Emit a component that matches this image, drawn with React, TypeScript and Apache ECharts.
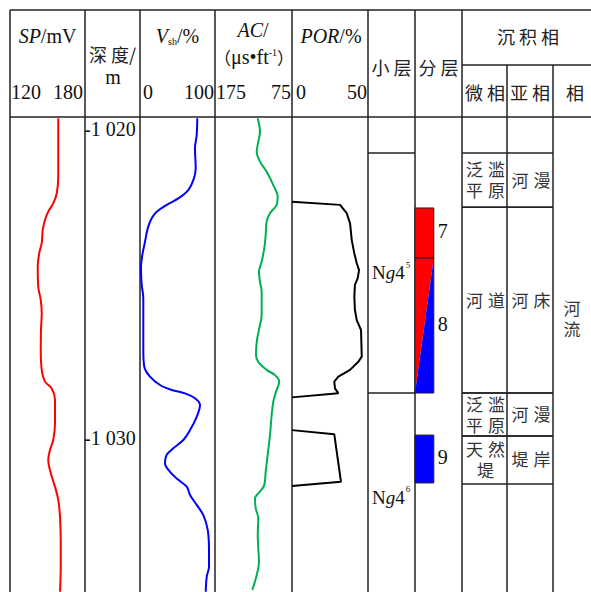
import React, { useEffect, useRef } from 'react';
import * as echarts from 'echarts';

// ---------------- data ----------------
const DEPTH_MIN = 1019.676;
const DEPTH_MAX = 1035.049;
const depthTicks = [1020, 1030];

const spDepth = [1019.72, 1021.61, 1022.15, 1022.47, 1022.74, 1023.01, 1023.33, 1023.75, 1024.08, 1024.52, 1025.17, 1025.6, 1026.03, 1026.57, 1027.22, 1027.86, 1028.24, 1028.46, 1028.83, 1029.58, 1030.13, 1030.45, 1030.78, 1031.2, 1031.64, 1032.07, 1032.61, 1033.46, 1034.23, 1035.04];
const spValue = [158.6, 158.6, 157.4, 154.6, 150.6, 148, 146.2, 145.4, 143.4, 142.2, 142.6, 144.6, 145.4, 144.8, 144.6, 145.4, 148, 153.4, 156, 156, 154.6, 152, 150.6, 152.6, 156, 158.6, 160, 160.6, 160.6, 160];

const vshDepth = [1019.72, 1020.26, 1020.69, 1021.34, 1021.72, 1022.04, 1022.31, 1022.52, 1022.74, 1022.95, 1023.28, 1023.71, 1024.14, 1024.57, 1025.11, 1025.54, 1026.19, 1027.22, 1027.76, 1028.08, 1028.35, 1028.51, 1028.62, 1028.78, 1029.0, 1029.38, 1029.81, 1030.13, 1030.4, 1030.61, 1030.88, 1031.16, 1031.42, 1031.64, 1031.91, 1032.23, 1032.56, 1033.04, 1033.69, 1034.23, 1034.55, 1035.04];
const vshValue = [76.4, 75.6, 73.3, 74.3, 71.1, 64.4, 51.1, 35.6, 22.3, 15.6, 10.3, 6.7, 3.1, 1.3, 2.3, 4.4, 4.4, 4.4, 5.7, 13.3, 26.7, 42.3, 60, 73.3, 80, 75.6, 66.7, 57.7, 44.4, 35.6, 33.3, 40, 51.1, 62.3, 66.7, 75.6, 84.4, 90.3, 92, 92, 89, 87.6];

const acDepth = [1019.72, 1020.15, 1020.48, 1020.8, 1021.12, 1021.45, 1021.88, 1022.26, 1022.52, 1022.79, 1023.06, 1023.5, 1023.93, 1024.36, 1024.68, 1025.01, 1025.33, 1026.08, 1026.51, 1026.95, 1027.38, 1027.6, 1027.86, 1028.03, 1028.24, 1028.57, 1028.89, 1029.32, 1029.97, 1030.61, 1031.16, 1031.59, 1031.8, 1032.02, 1032.34, 1032.66, 1033.2, 1033.63, 1034.07, 1034.5, 1034.98];
const acValue = [119.5, 116.6, 118.8, 120.8, 116.6, 107.9, 99.3, 93.6, 94.9, 103.6, 107.9, 109.2, 111.0, 114.4, 117.9, 116.6, 114.4, 114.4, 117.5, 120.8, 121.8, 118.8, 107.9, 97.1, 91.5, 95.8, 99.3, 101.4, 103.6, 106.6, 109.2, 111.0, 116.6, 123.1, 122.1, 118.8, 119.5, 118.8, 117.9, 120.8, 126.6];

const porDepthA = [1022.42, 1022.52, 1022.79, 1023.12, 1023.66, 1024.09, 1024.41, 1024.63, 1024.9, 1025.11, 1025.49, 1025.92, 1026.25, 1026.57, 1027.43, 1027.6, 1027.86, 1028.08, 1028.24, 1028.46, 1028.62, 1028.75];
const porValueA = [0, 31.6, 36, 38.2, 39.3, 41, 42.6, 44.1, 43.2, 41.4, 41, 41.4, 42.6, 45.4, 45.9, 43.6, 38.2, 30.5, 27.8, 28.3, 30.5, 0];
const porDepthB = [1029.81, 1029.94, 1031.48, 1031.62];
const porValueB = [0, 27.8, 32.2, 0];

const subLayerBoundaries = [1020.84, 1028.61];
const subLayerName = ['Ng4', 'Ng4'];
const subLayerIndex = ['5', '6'];
const subLayerLabelDepth = [1024.72, 1031.98];

const layerNames = ['7', '8', '9'];
const layerTop = [1022.62, 1024.24, 1029.97];
const layerBottom = [1024.24, 1028.61, 1031.52];
const layerKind = ['R', 'RB', 'B'];

const faciesTop = [1020.84, 1022.6, 1028.61, 1030.0];
const faciesBottom = [1022.6, 1028.61, 1030.0, 1031.55];
const microFacies = ['泛滥平原', '河道', '泛滥平原', '天然堤'];
const subFacies = ['河漫', '河床', '河漫', '堤岸'];
const faciesName = ['河流'];
const faciesTopMain = [1020.84];
const faciesBottomMain = [1031.55];

// ---------------- styles ----------------
const SERIF = '"Liberation Serif", "Times New Roman", serif';
const CJK = '"Noto Sans CJK SC", sans-serif';
const CELL_FAMILY = '"Liberation Serif", "Noto Sans CJK SC", sans-serif';
const LINE = '#222';
const LW = 1.5;
const GRID_TOP = 117;
const GRID_H = 475;
const CELL_FONT = 17;
const CELL_PITCH_Y = 21;
const CELL_PITCH_X = 22;

const cols = [
  { left: 10, width: 75, min: 120, max: 180, inv: false },
  { left: 85, width: 55, min: 0, max: 1, inv: false },
  { left: 140, width: 75, min: 0, max: 100, inv: false },
  { left: 215, width: 77, min: 75, max: 175, inv: true },
  { left: 292, width: 76, min: 0, max: 50, inv: false },
  { left: 368, width: 47, min: 0, max: 1, inv: false },
  { left: 415, width: 47, min: 0, max: 1, inv: false },
  { left: 462, width: 45, min: 0, max: 1, inv: false },
  { left: 507, width: 46, min: 0, max: 1, inv: false },
  { left: 553, width: 45, min: 0, max: 1, inv: false },
];

const fmtDepth = (d: number) => `-${Math.floor(d / 1000)} ${String(d % 1000).padStart(3, '0')}`;

function txt(x: number, y: number, text: string, opts: any = {}) {
  const align = opts.align || 'center';
  const va = opts.va || 'middle';
  return {
    type: 'text',
    x, y,
    silent: true,
    style: {
      text,
      fill: opts.fill || '#111',
      fontSize: opts.fontSize || 20,
      fontFamily: opts.fontFamily || SERIF,
      fontStyle: opts.fontStyle || 'normal',
      align, verticalAlign: va, textAlign: align, textVerticalAlign: va,
      rich: opts.rich,
    },
  };
}
function ln(x1: number, y1: number, x2: number, y2: number) {
  return { type: 'line', silent: true, shape: { x1, y1, x2, y2 }, style: { stroke: LINE, lineWidth: LW } };
}
// lay characters out in a grid of `per` chars per row, centred on (cx, cy)
function charGrid(cx: number, cy: number, s: string, per: number) {
  const chars = s.split('');
  const rows = Math.ceil(chars.length / per);
  const out: any[] = [];
  for (let r = 0; r < rows; r++) {
    const row = chars.slice(r * per, r * per + per);
    row.forEach((ch, k) => {
      const x = cx + (k - (row.length - 1) / 2) * CELL_PITCH_X;
      const y = cy + (r - (rows - 1) / 2) * CELL_PITCH_Y;
      out.push(txt(x, y, ch, { fontFamily: CELL_FAMILY, fontSize: CELL_FONT, fill: '#333' }));
    });
  }
  return out;
}

const richSerif = {
  i: { fontSize: 20, fontFamily: SERIF, fontStyle: 'italic', fill: '#111' },
  n: { fontSize: 20, fontFamily: SERIF, fontStyle: 'normal', fill: '#111' },
  s: { fontSize: 10, fontFamily: SERIF, fontStyle: 'normal', fill: '#111', verticalAlign: 'bottom' },
  sup: { fontSize: 10, fontFamily: SERIF, fontStyle: 'normal', fill: '#111', verticalAlign: 'top' },
  cj: { fontSize: 17, fontFamily: CJK, fontStyle: 'normal', fill: '#111' },
};

function buildOption(): any {
  const grid = cols.map((c) => ({ left: c.left, top: GRID_TOP, width: c.width, height: GRID_H }));
  const xAxis = cols.map((c, i) => ({ type: 'value', gridIndex: i, min: c.min, max: c.max, inverse: c.inv, show: false }));
  const yAxis = cols.map((_, i) => ({ type: 'value', gridIndex: i, min: DEPTH_MIN, max: DEPTH_MAX, inverse: true, show: false }));

  const curve = (idx: number, depth: number[], val: number[], color: string, smooth: number | boolean) => ({
    type: 'line', xAxisIndex: idx, yAxisIndex: idx,
    data: depth.map((d, i) => [val[i], d]),
    showSymbol: false, symbol: 'none', smooth, silent: true,
    lineStyle: { color, width: 2 },
  });

  const series: any[] = [
    curve(0, spDepth, spValue, '#ff0000', 0.35),
    curve(2, vshDepth, vshValue, '#0000ff', 0.35),
    curve(3, acDepth, acValue, '#00b050', 0.35),
    curve(4, porDepthA, porValueA, '#000', false),
    curve(4, porDepthB, porValueB, '#000', false),
    // depth tick labels
    {
      type: 'custom', xAxisIndex: 1, yAxisIndex: 1, silent: true,
      data: depthTicks.map((d) => [0, d]),
      renderItem: (params: any, api: any) => {
        const p = api.coord([0, api.value(1)]);
        return txt(p[0] - 1, p[1] + 2, fmtDepth(depthTicks[params.dataIndex]), { align: 'left' });
      },
    },
    // sub-layer boundaries
    {
      type: 'custom', xAxisIndex: 5, yAxisIndex: 5, silent: true,
      data: subLayerBoundaries.map((d) => [0, d]),
      renderItem: (_p: any, api: any) => {
        const a = api.coord([0, api.value(1)]);
        const b = api.coord([1, api.value(1)]);
        return ln(a[0], a[1], b[0], b[1]);
      },
    },
    // sub-layer labels
    {
      type: 'custom', xAxisIndex: 5, yAxisIndex: 5, silent: true,
      data: subLayerLabelDepth.map((d) => [0.78, d]),
      renderItem: (params: any, api: any) => {
        const i = params.dataIndex;
        const p = api.coord([api.value(0), api.value(1)]);
        const name = subLayerName[i];
        return {
          type: 'group',
          children: [
            txt(p[0], p[1], `{n|${name.slice(0, 1)}}{i|${name.slice(1, 2)}}{n|${name.slice(2)}}`, {
              align: 'right',
              rich: { n: { ...richSerif.n, fontSize: 19 }, i: { ...richSerif.i, fontSize: 19 } },
            }),
            txt(p[0] + 1, p[1] - 8, subLayerIndex[i], { align: 'left', fontSize: 9 }),
          ],
        };
      },
    },
    // layers
    {
      type: 'custom', xAxisIndex: 6, yAxisIndex: 6, silent: true,
      data: layerTop.map((t, i) => [t, layerBottom[i]]),
      renderItem: (params: any, api: any) => {
        const i = params.dataIndex;
        const a = api.coord([0, api.value(0)]);
        const b = api.coord([0.4, api.value(1)]);
        const x0 = a[0], y0 = a[1], x1 = b[0], y1 = b[1];
        const kind = layerKind[i];
        const children: any[] = [];
        const border = { stroke: LINE, lineWidth: 1 };
        if (kind === 'R' || kind === 'B') {
          children.push({ type: 'rect', shape: { x: x0, y: y0, width: x1 - x0, height: y1 - y0 }, style: { fill: kind === 'R' ? '#ff0000' : '#0000ff', ...border } });
        } else {
          children.push({ type: 'polygon', shape: { points: [[x0, y0], [x1, y0], [x0, y1]] }, style: { fill: '#ff0000' } });
          children.push({ type: 'polygon', shape: { points: [[x1, y0], [x1, y1], [x0, y1]] }, style: { fill: '#0000ff' } });
          children.push({ type: 'rect', shape: { x: x0, y: y0, width: x1 - x0, height: y1 - y0 }, style: { fill: 'none', ...border } });
        }
        children.push(txt(x1 + 4, (y0 + y1) / 2 - 2, layerNames[i], { align: 'left' }));
        return { type: 'group', children };
      },
    },
  ];

  // facies rows (micro + sub)
  [7, 8].forEach((gi) => {
    const labels = gi === 7 ? microFacies : subFacies;
    series.push({
      type: 'custom', xAxisIndex: gi, yAxisIndex: gi, silent: true,
      data: faciesTop.map((t, i) => [t, faciesBottom[i]]),
      renderItem: (params: any, api: any) => {
        const i = params.dataIndex;
        const a = api.coord([0, api.value(0)]);
        const b = api.coord([1, api.value(1)]);
        return {
          type: 'group',
          children: [
            ln(a[0], a[1], b[0], a[1]),
            ln(a[0], b[1], b[0], b[1]),
            ...charGrid((a[0] + b[0]) / 2 + 1, (a[1] + b[1]) / 2 + 1, labels[i], 2),
          ],
        };
      },
    });
  });
  series.push({
    type: 'custom', xAxisIndex: 9, yAxisIndex: 9, silent: true,
    data: faciesTopMain.map((t, i) => [t, faciesBottomMain[i]]),
    renderItem: (params: any, api: any) => {
      const i = params.dataIndex;
      const a = api.coord([0, api.value(0)]);
      const b = api.coord([1, api.value(1)]);
      return { type: 'group', children: charGrid((a[0] + b[0]) / 2, (a[1] + b[1]) / 2 + 2, faciesName[i], 1) };
    },
  });

  // table frame & headers (layout)
  const g: any[] = [];
  g.push(ln(10, 10, 591, 10));
  g.push(ln(10, 117, 591, 117));
  g.push(ln(462, 65, 591, 65));
  [10, 85, 140, 215, 292, 368, 415, 462].forEach((x) => g.push(ln(x, 10, x, 592)));
  [507, 553].forEach((x) => g.push(ln(x, 65, x, 592)));

  const cn = { fontFamily: CJK, fontSize: 18, fill: '#222' };
  g.push(txt(47.5, 36, '{i|SP}{n|/}{n|mV}', { rich: richSerif }));
  g.push(txt(11, 92, '120', { align: 'left' }));
  g.push(txt(83, 92, '180', { align: 'right' }));
  g.push(txt(112.5, 54, '深 度/', cn));
  g.push(txt(113, 77, 'm', {}));
  g.push(txt(177.5, 36, '{i|V}{s|sh}{n|/%}', { rich: richSerif }));
  g.push(txt(143, 92, '0', { align: 'left' }));
  g.push(txt(214, 92, '100', { align: 'right' }));
  g.push(txt(253, 30, '{i|AC}{n|/}', { rich: richSerif }));
  g.push(txt(254, 57, '{cj|（}{n|μs•ft}{sup|-1}{cj|）}', { rich: richSerif }));
  g.push(txt(216, 92, '175', { align: 'left' }));
  g.push(txt(291, 92, '75', { align: 'right' }));
  g.push(txt(331, 36, '{i|POR}{n|/%}', { rich: richSerif }));
  g.push(txt(296, 92, '0', { align: 'left' }));
  g.push(txt(367, 92, '50', { align: 'right' }));
  g.push(txt(391.5, 67, '小 层', cn));
  g.push(txt(438.5, 67, '分 层', cn));
  g.push(txt(528, 36, '沉 积 相', cn));
  g.push(txt(485, 92, '微 相', cn));
  g.push(txt(530, 92, '亚 相', cn));
  g.push(txt(575, 92, '相', cn));

  return {
    animation: false,
    backgroundColor: '#fff',
    grid, xAxis, yAxis, series,
    graphic: { elements: g },
  };
}

export default function App() {
  const ref = useRef<HTMLDivElement>(null);
  useEffect(() => {
    const chart = echarts.init(ref.current!, undefined, { renderer: 'svg' });
    chart.setOption(buildOption());
    return () => chart.dispose();
  }, []);
  return <div ref={ref} style={{ position: 'absolute', left: 0, top: 0, width: 591, height: 592, background: '#fff' }} />;
}
